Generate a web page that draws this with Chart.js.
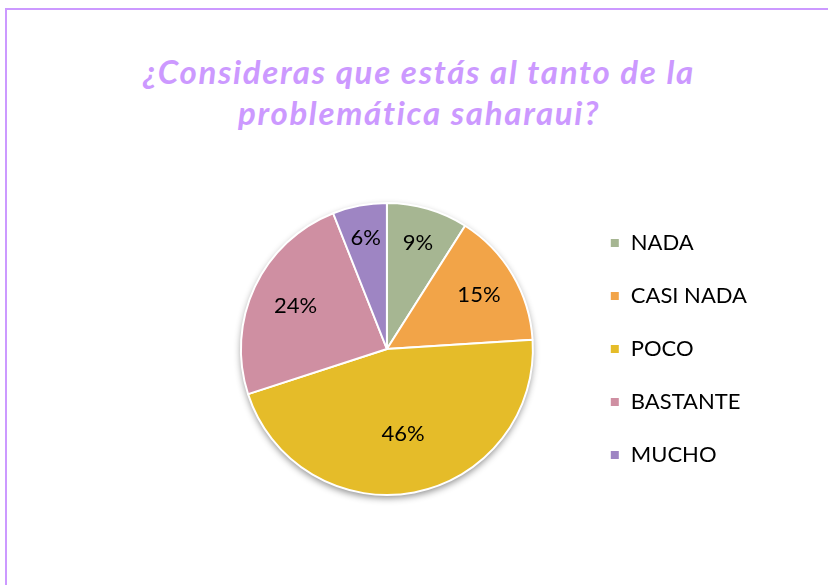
<!DOCTYPE html>
<html><head><meta charset="utf-8">
<script src="https://cdn.jsdelivr.net/npm/chart.js@4/dist/chart.umd.min.js"></script>
<style>
html,body{margin:0;padding:0;width:828px;height:585px;overflow:hidden;background:#fff}
#frame{position:absolute;left:5px;top:8px;width:900px;height:700px;border-left:2px solid #cc99ff;border-top:2px solid #cc99ff;box-sizing:border-box}
#title{position:absolute;left:0;width:838px;top:51px;text-align:center;font:italic bold 33px Lato;letter-spacing:1.7px;color:#cc99ff;line-height:41px;margin:0}
#wrap{position:absolute;left:0;top:0;width:828px;height:585px}
</style></head>
<body>
<div id="frame"></div>
<div id="title">¿Consideras que estás al tanto de la<br>problemática saharaui?</div>
<div id="wrap"><canvas id="c" width="828" height="585"></canvas></div>
<script>
const categories = ['NADA', 'CASI NADA', 'POCO', 'BASTANTE', 'MUCHO'];
const percentages = [9, 15, 46, 24, 6];
const sliceColors = ['#a6b692', '#f2a448', '#e5bc29', '#cf8fa2', '#9e85c3'];

const shadowPlugin = {
  id: 'pieShadow',
  beforeDatasetsDraw(chart) {
    const arc = chart.getDatasetMeta(0).data[0];
    if (!arc) return;
    const ctx = chart.ctx;
    ctx.save();
    ctx.shadowColor = 'rgba(0,0,0,0.45)';
    ctx.shadowBlur = 7;
    ctx.shadowOffsetY = 3;
    ctx.fillStyle = '#ffffff';
    ctx.beginPath();
    ctx.arc(arc.x, arc.y, arc.outerRadius, 0, Math.PI * 2);
    ctx.fill();
    ctx.restore();
  }
};

const labelPlugin = {
  id: 'sliceLabels',
  afterDatasetsDraw(chart) {
    const ctx = chart.ctx;
    const meta = chart.getDatasetMeta(0);
    const data = chart.data.datasets[0].data;
    const total = data.reduce((a, b) => a + b, 0);
    ctx.save();
    ctx.font = '22px Lato';
    ctx.fillStyle = '#000';
    ctx.textAlign = 'center';
    ctx.textBaseline = 'middle';
    meta.data.forEach((arc, i) => {
      const mid = (arc.startAngle + arc.endAngle) / 2;
      const f = 0.8 - 0.45 * (data[i] / total);
      const r = arc.outerRadius * f;
      ctx.fillText(data[i] + '%', arc.x + Math.cos(mid) * r, arc.y + Math.sin(mid) * r);
    });
    ctx.restore();
  }
};

new Chart(document.getElementById('c'), {
  type: 'pie',
  data: {
    labels: categories,
    datasets: [{
      data: percentages,
      backgroundColor: sliceColors,
      borderColor: '#ffffff',
      borderWidth: 2,
      radius: 146
    }]
  },
  options: {
    responsive: false,
    animation: false,
    layout: { padding: { left: 195, top: 113, bottom: 0, right: 71 } },
    plugins: {
      title: { display: false },
      tooltip: { enabled: false },
      legend: {
        position: 'right',
        labels: {
          font: { family: 'Lato', size: 22 },
          color: '#000',
          boxWidth: 10,
          boxHeight: 10,
          padding: 31
        }
      }
    }
  },
  plugins: [shadowPlugin, labelPlugin]
});
</script>
</body></html>
